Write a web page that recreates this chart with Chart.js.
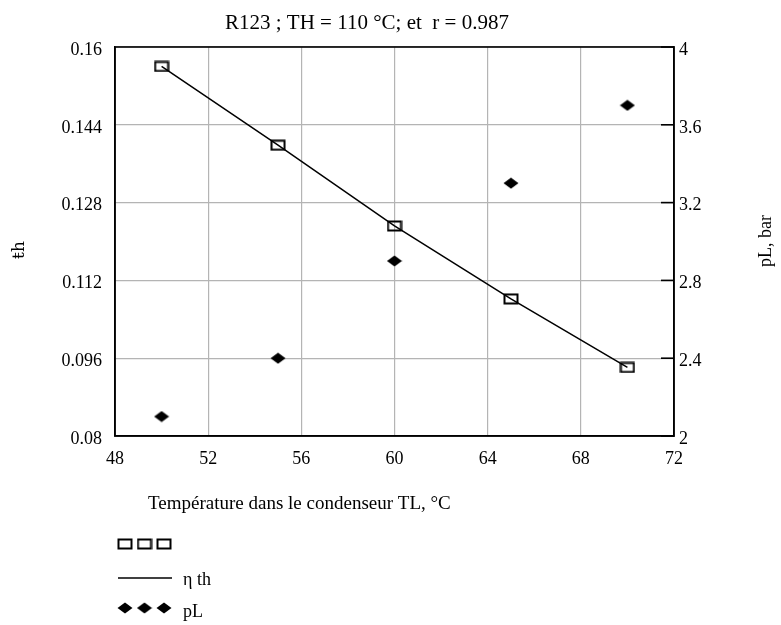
<!DOCTYPE html>
<html><head><meta charset="utf-8">
<script src="https://cdn.jsdelivr.net/npm/chart.js@4"></script>
<style>html,body{margin:0;padding:0;background:#fff}#wrap{position:relative;width:781px;height:625px}</style>
</head><body><div id="wrap"><canvas id="c" width="781" height="625"></canvas></div>
<script>
const temperatures = [50, 55, 60, 65, 70];
const etaTh = [0.156, 0.1398, 0.1232, 0.1082, 0.0941];
const pL = [2.1, 2.4, 2.9, 3.3, 3.7];
const xTicks = [48, 52, 56, 60, 64, 68, 72];
const etaTicks = [0.08, 0.096, 0.112, 0.128, 0.144, 0.16];
const pTicks = [2, 2.4, 2.8, 3.2, 3.6, 4];
const titleText = 'R123 ; TH = 110 °C; et  r = 0.987';
const xTitle = 'Température dans le condenseur TL, °C';
const yTitle = 'ŧh';
const y1Title = 'pL, bar';
const legendLineLabel = 'η th';
const legendDiamondLabel = 'pL';

const FONT = "'Liberation Serif', 'Times New Roman', serif";

function makeRect() {
  const c = document.createElement('canvas'); c.width = 16; c.height = 12;
  const g = c.getContext('2d'); g.strokeStyle = '#000'; g.lineWidth = 2;
  g.strokeRect(1.5, 1.5, 13, 9); return c;
}
function makeDiamond() {
  const c = document.createElement('canvas'); c.width = 16; c.height = 12;
  const g = c.getContext('2d'); g.fillStyle = '#000'; g.beginPath();
  g.moveTo(8, 0.5); g.lineTo(15.5, 6); g.lineTo(8, 11.5); g.lineTo(0.5, 6); g.closePath(); g.fill();
  return c;
}
const rectImg = makeRect();
const diamondImg = makeDiamond();

const decorPlugin = {
  id: 'decor',
  afterDraw(chart) {
    const ctx = chart.ctx, a = chart.chartArea;
    ctx.save();
    ctx.strokeStyle = '#000'; ctx.lineWidth = 1.6;
    ctx.strokeRect(a.left, a.top, a.right - a.left, a.bottom - a.top);
    const y1 = chart.scales.y1;
    pTicks.forEach(v => {
      const py = y1.getPixelForValue(v);
      ctx.beginPath(); ctx.moveTo(a.right - 13, py); ctx.lineTo(a.right, py); ctx.stroke();
    });
    ctx.fillStyle = '#000';
    ctx.font = '21px ' + FONT; ctx.textAlign = 'left'; ctx.textBaseline = 'alphabetic';
    ctx.fillText(titleText, 225, 29);
    ctx.font = '19px ' + FONT;
    ctx.fillText(xTitle, 148, 509);
    ctx.save(); ctx.translate(20, 250); ctx.rotate(-Math.PI / 2);
    ctx.textAlign = 'center'; ctx.textBaseline = 'middle'; ctx.font = "17px 'DejaVu Serif', serif";
    ctx.fillText(yTitle, 0, 0); ctx.restore();
    ctx.save(); ctx.translate(766, 241); ctx.rotate(-Math.PI / 2);
    ctx.textAlign = 'center'; ctx.textBaseline = 'middle'; ctx.font = '18px ' + FONT;
    ctx.fillText(y1Title, 0, 0); ctx.restore();
    [125, 144.5, 164].forEach(cx => ctx.drawImage(rectImg, cx - 8, 544 - 6));
    ctx.lineWidth = 1.4;
    ctx.beginPath(); ctx.moveTo(118, 578); ctx.lineTo(172, 578); ctx.stroke();
    [125, 144.5, 164].forEach(cx => ctx.drawImage(diamondImg, cx - 8, 608 - 6));
    ctx.font = '18px ' + FONT; ctx.textAlign = 'left'; ctx.textBaseline = 'alphabetic';
    ctx.fillText(legendLineLabel, 183, 585);
    ctx.fillText(legendDiamondLabel, 183, 617);
    ctx.restore();
  }
};

new Chart(document.getElementById('c'), {
  type: 'line',
  data: {
    datasets: [
      {
        data: temperatures.map((t, i) => ({ x: t, y: etaTh[i] })),
        yAxisID: 'y', borderColor: '#000', borderWidth: 1.5, pointRadius: 0, tension: 0, fill: false
      },
      {
        data: temperatures.map((t, i) => ({ x: t, y: etaTh[i] })),
        yAxisID: 'y', showLine: false, pointStyle: rectImg, pointRadius: 6, borderColor: '#000'
      },
      {
        data: temperatures.map((t, i) => ({ x: t, y: pL[i] })),
        yAxisID: 'y1', showLine: false, pointStyle: diamondImg, pointRadius: 6, borderColor: '#000'
      }
    ]
  },
  options: {
    responsive: false, animation: false, devicePixelRatio: 1,
    layout: { padding: { top: 47, left: 0, right: 0, bottom: 0 } },
    plugins: { legend: { display: false }, tooltip: { enabled: false }, title: { display: false } },
    scales: {
      x: {
        type: 'linear', min: 48, max: 72,
        afterBuildTicks: s => { s.ticks = xTicks.map(v => ({ value: v })); },
        afterFit: s => { s.height = 189; },
        ticks: { font: { family: FONT, size: 18 }, color: '#000', padding: 12, maxRotation: 0, callback: v => String(v) },
        grid: { color: '#b4b4b4', lineWidth: 1.2, drawTicks: false },
        border: { display: true, color: '#000', width: 1.5 }
      },
      y: {
        type: 'linear', position: 'left', min: 0.08, max: 0.16,
        afterBuildTicks: s => { s.ticks = etaTicks.map(v => ({ value: v })); },
        afterFit: s => { s.width = 115; },
        ticks: { font: { family: FONT, size: 18 }, color: '#000', padding: 13, labelOffset: 3, callback: v => String(v) },
        grid: { color: '#b4b4b4', lineWidth: 1.2, drawTicks: false },
        border: { display: true, color: '#000', width: 1.5 }
      },
      y1: {
        type: 'linear', position: 'right', min: 2, max: 4,
        afterBuildTicks: s => { s.ticks = pTicks.map(v => ({ value: v })); },
        afterFit: s => { s.width = 107; },
        ticks: { font: { family: FONT, size: 18 }, color: '#000', padding: 5, labelOffset: 3, callback: v => String(v) },
        grid: { display: false, drawTicks: false },
        border: { display: true, color: '#000', width: 1.5 }
      }
    }
  },
  plugins: [decorPlugin]
});
</script></body></html>
